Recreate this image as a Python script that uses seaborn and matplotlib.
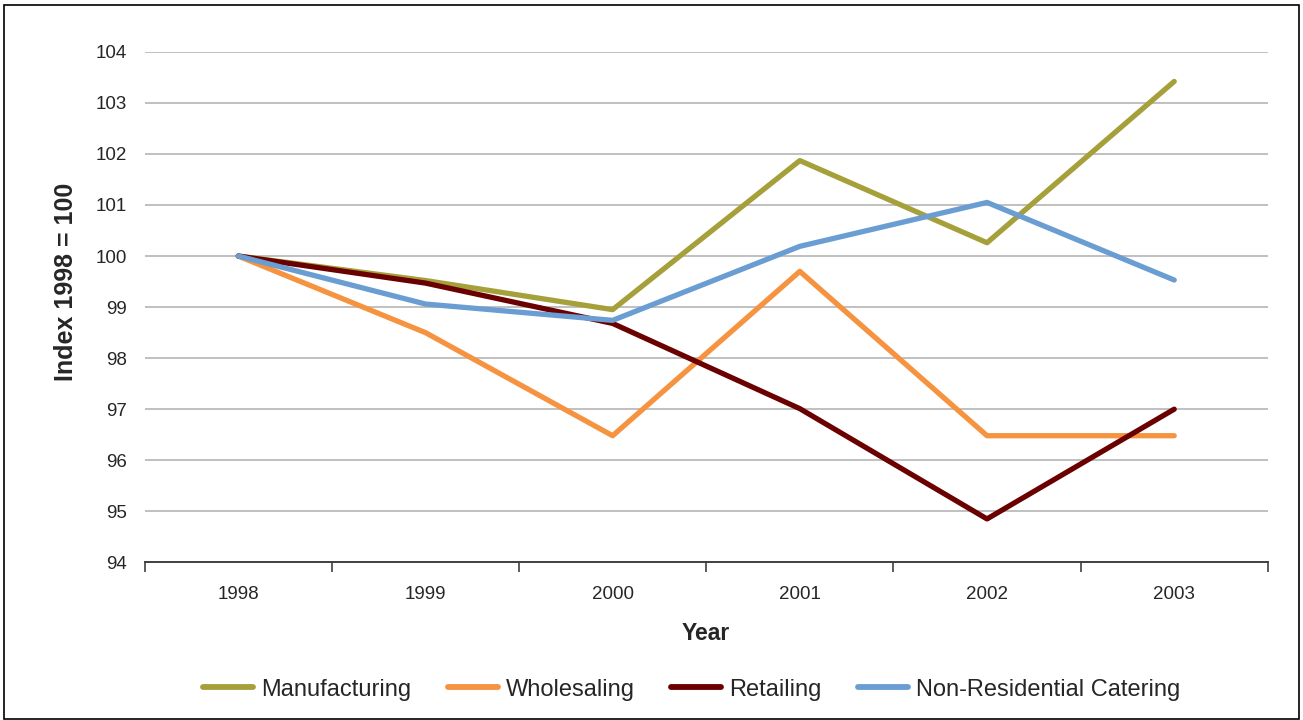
import pandas as pd
import matplotlib.pyplot as plt
import seaborn as sns
from matplotlib.patches import Rectangle
from matplotlib.ticker import FixedLocator

# =========================
# 1. DATA
# =========================
years = [1998, 1999, 2000, 2001, 2002, 2003]
manufacturing = [100.0, 99.52, 98.95, 101.87, 100.26, 103.42]
wholesaling = [100.0, 98.5, 96.48, 99.7, 96.48, 96.48]
retailing = [100.0, 99.47, 98.68, 97.01, 94.85, 97.0]
catering = [100.0, 99.06, 98.74, 100.19, 101.05, 99.53]

series_names = ["Manufacturing", "Wholesaling", "Retailing", "Non-Residential Catering"]
colors = ["#A5A03A", "#F59340", "#6A0000", "#6A9DD2"]

df = pd.DataFrame({
    "Year": years * 4,
    "Index": manufacturing + wholesaling + retailing + catering,
    "Sector": [n for n in series_names for _ in years],
})

# =========================
# 2. STYLE
# =========================
sns.set_style("white")
plt.rcParams["font.family"] = ["Liberation Sans", "DejaVu Sans"]

fig = plt.figure(figsize=(13.03, 7.2), dpi=100)
ax = fig.add_axes([0.111, 0.219, 0.862, 0.709])

sns.lineplot(
    data=df, x="Year", y="Index", hue="Sector",
    hue_order=series_names, palette=colors,
    linewidth=3.8, ax=ax, legend=True,
)

# =========================
# 3. AXES
# =========================
ax.set_ylim(94, 104)
ax.set_yticks(range(94, 105))
ax.set_xlim(1997.5, 2003.5)
ax.set_xticks(years)
ax.xaxis.set_minor_locator(FixedLocator([y - 0.5 for y in years] + [2003.5]))
ax.tick_params(axis="x", which="major", length=0, pad=17, labelsize=13.5)
ax.tick_params(axis="x", which="minor", bottom=True, length=7, width=1.2,
               color="#404040", direction="out")
ax.tick_params(axis="y", length=0, pad=13, labelsize=13.5)

ax.grid(axis="y", color="#C0C0C0", linewidth=1.4)
ax.set_axisbelow(True)
for s in ["top", "right", "left"]:
    ax.spines[s].set_visible(False)
ax.spines["bottom"].set_color("#404040")
ax.spines["bottom"].set_linewidth(1.4)

ax.set_xlabel("Year", fontsize=16.5, fontweight="bold", labelpad=14)
ax.set_ylabel("Index 1998 = 100", fontsize=18, fontweight="bold")
ax.yaxis.set_label_coords(-0.059, 0.55)

# =========================
# 4. LEGEND + FRAME
# =========================
handles, labels = ax.get_legend_handles_labels()
for h in handles:
    h.set_linewidth(4.2)
ax.get_legend().remove()
fig.legend(
    handles, labels, loc="center", bbox_to_anchor=(0.531, 0.042),
    ncol=4, frameon=False, fontsize=17, handlelength=2.1,
    handletextpad=0.35, columnspacing=1.55,
)

fig.patches.append(Rectangle(
    (0.003, 0.002), 0.994, 0.991, transform=fig.transFigure,
    fill=False, edgecolor="black", linewidth=1.2,
))

fig.savefig("out.png", dpi=100)
